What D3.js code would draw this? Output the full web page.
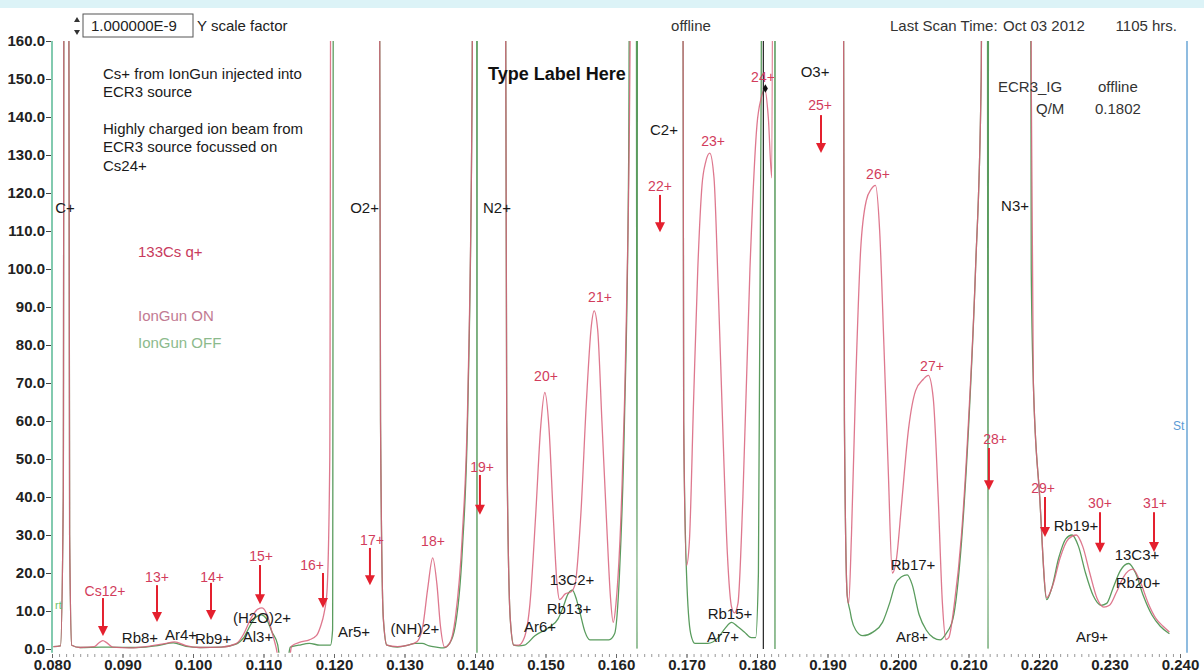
<!DOCTYPE html>
<html>
<head>
<meta charset="utf-8">
<script src="https://cdn.jsdelivr.net/npm/d3@7"></script>
<style>
  body { margin: 0; background: #fff; }
  svg text { font-family: Arial, "Liberation Sans", sans-serif; }
</style>
</head>
<body>
<script>
// charge-state scan, Q/M on x, beam current (x 1e-9) on y
const onQ = [0.0802,0.0812,0.0816,0.0818,0.0822,0.0825,0.0828,0.0840,0.0860,0.0866,0.0872,0.0878,0.0886,0.0910,0.0940,0.0960,0.0974,0.0990,0.1010,0.1040,0.1062,0.1072,0.1082,0.1092,0.1098,0.1105,0.1112,0.1118,0.1122,0.1136,0.1140,0.1152,0.1165,0.1175,0.1181,0.1186,0.1190,0.1194,0.1197,0.1262,0.1266,0.1270,0.1275,0.1290,0.1305,0.1318,0.1326,0.1333,0.1340,0.1346,0.1351,0.1357,0.1364,0.1372,0.1382,0.1390,0.1396,0.1399,0.1440,0.1445,0.1450,0.1455,0.1462,0.1470,0.1478,0.1486,0.1493,0.1499,0.1505,0.1511,0.1516,0.1520,0.1528,0.1536,0.1542,0.1550,0.1558,0.1565,0.1569,0.1574,0.1580,0.1587,0.1592,0.1596,0.1600,0.1608,0.1615,0.1620,0.1623,0.1693,0.1696,0.1700,0.1704,0.1710,0.1716,0.1722,0.1727,0.1733,0.1739,0.1745,0.1752,0.1758,0.1764,0.1768,0.1773,0.1780,0.1790,0.1800,0.1806,0.1811,0.1816,0.1821,0.1825,0.1920,0.1924,0.1928,0.1930,0.1934,0.1940,0.1947,0.1955,0.1962,0.1968,0.1974,0.1980,0.1986,0.1992,0.1998,0.2005,0.2015,0.2025,0.2036,0.2043,0.2050,0.2057,0.2063,0.2068,0.2072,0.2080,0.2090,0.2100,0.2110,0.2118,0.2122,0.2186,0.2189,0.2192,0.2201,0.2211,0.2220,0.2230,0.2242,0.2253,0.2262,0.2272,0.2282,0.2292,0.2300,0.2310,0.2320,0.2333,0.2343,0.2355,0.2366,0.2376,0.2385]
const onVal = [0.6,0.8,40,400,400,30,1,0.4,0.6,1.5,2.2,1.6,0.5,0.3,0.8,1.4,1.9,0.9,0.4,0.5,1.5,4,8,10.5,10.8,9,4.5,0.3,-3,-3,0.8,1.8,2.4,3.5,6,9.5,15,50,400,400,60,8,1,0.6,1,2,6,16,24,17,6,0.5,1.5,8,30,68,150,400,400,60,8,1,1,3,12,35,58,67.5,58,35,18,13,14.5,15,17,35,65,85,89,84,60,32,14,7,12,40,90,160,400,400,60,22,28,65,100,122,128,130.5,124,95,55,25,11,9.5,12,40,100,138,145,147.5,140,124,400,400,60,14,12,30,70,105,118,121,122,110,80,48,20,24,38,58,68,71,72,66,40,12,2.5,3,12,30,60,100,150,400,400,150,70,40,13.5,17,24,29,30,27,20,13.5,11,11.5,15,19,21,18,12,8,6,4.5]

const offQ = [0.0802,0.0812,0.0816,0.0818,0.0822,0.0825,0.0828,0.0840,0.0870,0.0880,0.0920,0.0950,0.0972,0.0990,0.1010,0.1040,0.1060,0.1072,0.1082,0.1090,0.1097,0.1104,0.1112,0.1120,0.1124,0.1134,0.1138,0.1150,0.1165,0.1180,0.1195,0.1198,0.1200,0.1262,0.1266,0.1270,0.1275,0.1290,0.1305,0.1315,0.1325,0.1335,0.1345,0.1355,0.1364,0.1372,0.1382,0.1390,0.1396,0.1399,0.1402,0.14028,0.14036,0.1440,0.1445,0.1450,0.1455,0.1462,0.1470,0.1485,0.1506,0.1518,0.1525,0.1532,0.1538,0.1544,0.1549,0.1556,0.1563,0.1590,0.1598,0.1605,0.1612,0.1618,0.1622,0.1628,0.16298,0.1631,0.1693,0.1696,0.1700,0.1706,0.1712,0.1730,0.1745,0.1755,0.1764,0.1772,0.1782,0.1792,0.1798,0.1802,0.1806,0.1808,0.1825,0.18255,0.1826,0.1920,0.1924,0.1928,0.1932,0.1934,0.1940,0.1950,0.1965,0.1978,0.1988,0.1996,0.2005,0.2013,0.2020,0.2030,0.2040,0.2050,0.2060,0.2068,0.2078,0.2090,0.2100,0.2110,0.2118,0.2122,0.2126,0.21277,0.2129,0.2186,0.2189,0.2192,0.2201,0.2211,0.2218,0.2228,0.2238,0.2247,0.2256,0.2266,0.2277,0.2288,0.2296,0.2305,0.2315,0.2327,0.2337,0.2348,0.2360,0.2372,0.2385]
const offVal = [0.6,0.8,40,400,400,30,1,0.4,0.5,0.5,0.4,0.9,1.6,0.7,0.4,0.5,1.2,3,6.5,8.5,9,8,4.5,1.2,-3,-3,0.5,1,1.5,1,1,5,400,400,60,8,1,0.5,1,1.5,1.5,0.8,0.5,0.3,1.5,6,26,65,150,400,400,-2,400,400,60,8,1,0.8,1,3.5,5.8,8,11,14.5,15.5,13,9.5,4.5,2.4,2.4,4,20,60,130,400,400,0,400,400,60,20,4,1.5,1.5,3,5.5,7,6,4.5,3,3,20,150,400,400,0,400,400,60,14,10,8,5,3.5,4.5,7,12,17,19,19.5,17,9,5,3,2.4,4,8,28,58,100,150,400,400,0,400,400,100,70,40,13,16,24,29,30,27,20,14,11.5,12,16,20.5,22.5,20,14,9,6,4]

// black labels: ion species
const speciesNames = ['C+','O2+','N2+','C2+','O3+','N3+','Rb8+','Ar4+','Rb9+','(H2O)2+','Al3+','Ar5+','(NH)2+','Ar6+','Rb13+','13C2+','Rb15+','Ar7+','Rb17+','Ar8+','Rb19+','13C3+','Rb20+','Ar9+']
const speciesQ = [0.08184,0.12434,0.14312,0.16681,0.18823,0.2166,0.09248,0.0983,0.10284,0.10979,0.10922,0.12284,0.13149,0.14922,0.15333,0.15376,0.17617,0.17518,0.20213,0.20199,0.22525,0.2339,0.23404,0.22752]
const speciesV = [116.1,116.1,116.1,136.6,151.8,116.6,2.9,3.7,2.6,8.2,3.2,4.5,5.3,5.8,10.5,18.2,9.2,3.2,22.1,3.2,32.4,24.7,17.4,3.2]

// red labels: 133Cs charge states
const chargeNames = ['Cs12+','13+','14+','15+','16+','17+','18+','19+','20+','21+','22+','23+','24+','25+','26+','27+','28+','29+','30+','31+']
const chargeQ = [0.08752,0.09489,0.1027,0.10965,0.11688,0.12539,0.13404,0.141,0.15007,0.15773,0.16624,0.17376,0.18085,0.18894,0.19716,0.20482,0.21376,0.22057,0.22865,0.23645]
const chargeV = [15.3,18.9,18.9,24.5,22.1,28.7,28.4,47.9,71.8,92.6,121.8,133.7,150.5,143.2,125,74.5,55.3,42.4,38.4,38.4]

// arrows: expected position of each Cs charge state
const arrowQ = [0.08723,0.09489,0.10255,0.1095,0.11844,0.1251,0.1407,0.16624,0.18908,0.2129,0.22085,0.22865,0.23631]
const arrowTop = [13.4,16.8,17.4,22.1,20,26.6,45.8,119.5,140.5,52.9,40,36,36]
const arrowTip = [3.4,7.1,7.6,11.8,10.8,16.8,35.3,109.7,130.5,41.8,29.5,25.3,25.5]

const yTicks = d3.range(0, 161, 10)
const xMajor = d3.range(0, 17).map(i => 0.08 + i * 0.01)
const xMinor = d3.range(0, 161).map(i => 0.08 + i * 0.001)

const cursorQ = 0.1809
const cursorV = 147.5

const width = 1204, height = 672

const svg = d3.select('body').append('svg')
    .attr('width', width)
    .attr('height', height)

svg.append('rect').attr('width', width).attr('height', height).attr('fill', '#fff')
svg.append('rect').attr('width', width).attr('height', 8).attr('fill', '#dcf3f7')

const x = d3.scaleLinear().domain([0.08, 0.24]).range([52, 1180])
const y = d3.scaleLinear().domain([0, 160]).range([649, 41])

svg.append('defs').append('clipPath').attr('id', 'plot')
    .append('rect')
    .attr('x', x(0.08)).attr('y', y(160))
    .attr('width', 1187 - x(0.08)).attr('height', y(-1) - y(160))

// header
svg.append('path').attr('d', 'M74,22 l3,-5 l3,5 z M74,30 l3,5 l3,-5 z').attr('fill', '#333')
svg.append('rect').attr('x', 83).attr('y', 14).attr('width', 110).attr('height', 23)
    .attr('fill', '#fff').attr('stroke', '#555').attr('stroke-width', 1)
svg.append('text').attr('x', 91).attr('y', 31).text('1.000000E-9')
    .style('font-size', '15px').attr('fill', '#222')
svg.append('text').attr('x', 197).attr('y', 31).text('Y scale factor')
    .style('font-size', '15px').attr('fill', '#222')
svg.append('text').attr('x', 691).attr('y', 31).attr('text-anchor', 'middle').text('offline')
    .style('font-size', '15px').attr('fill', '#333')
svg.append('text').attr('x', 890).attr('y', 31).text('Last Scan Time:')
    .style('font-size', '15px').attr('fill', '#333')
svg.append('text').attr('x', 1003).attr('y', 31).text('Oct 03 2012')
    .style('font-size', '15px').attr('fill', '#333')
svg.append('text').attr('x', 1177).attr('y', 31).attr('text-anchor', 'end').text('1105 hrs.')
    .style('font-size', '15px').attr('fill', '#333')

// y axis
const yAxis = svg.append('g')
    .attr('transform', 'translate(51,0)')
    .call(d3.axisLeft(y).tickValues(yTicks).tickFormat(d3.format('.1f')).tickSize(5).tickPadding(1))
yAxis.select('.domain').remove()
yAxis.selectAll('text').style('font-size', '15px').style('font-weight', 'bold').attr('fill', '#222')
yAxis.selectAll('line').attr('stroke', '#444')

svg.append('line')
    .attr('x1', x(0.08)).attr('x2', x(0.08))
    .attr('y1', y(160)).attr('y2', y(-1))
    .attr('stroke', '#58b894').attr('stroke-width', 1.5)
svg.append('line')
    .attr('x1', 1187).attr('x2', 1187)
    .attr('y1', y(160)).attr('y2', y(-1))
    .attr('stroke', '#6aa6d6').attr('stroke-width', 1.5)

// x axis: dotted minor ticks + labelled majors
const xMinorAxis = svg.append('g')
    .attr('transform', 'translate(0,654)')
    .call(d3.axisBottom(x).tickValues(xMinor).tickFormat('').tickSize(3))
xMinorAxis.select('.domain').remove()
xMinorAxis.selectAll('line').attr('stroke', '#999')

const xAxis = svg.append('g')
    .attr('transform', 'translate(0,654)')
    .call(d3.axisBottom(x).tickValues(xMajor).tickFormat(d3.format('.3f')).tickSize(4).tickPadding(1))
xAxis.select('.domain').remove()
xAxis.selectAll('line').attr('stroke', '#666')
xAxis.selectAll('text').style('font-size', '15px').style('font-weight', 'bold').attr('fill', '#222')

// traces
const line = d3.line()
    .x(d => x(d[0]))
    .y(d => y(d[1]))
    .curve(d3.curveMonotoneX)

const plot = svg.append('g').attr('clip-path', 'url(#plot)')

plot.append('path')
    .datum(offQ.map((q, i) => [q, offVal[i]]))
    .attr('d', line)
    .attr('fill', 'none')
    .attr('stroke', '#5a9c5e')
    .attr('stroke-width', 1.3)

plot.append('path')
    .datum(onQ.map((q, i) => [q, onVal[i]]))
    .attr('d', line)
    .attr('fill', 'none')
    .attr('stroke', '#d8607a')
    .attr('stroke-width', 1.3)
    .attr('opacity', 0.85)

// cursor
plot.append('line')
    .attr('x1', x(cursorQ)).attr('x2', x(cursorQ))
    .attr('y1', y(160)).attr('y2', y(0))
    .attr('stroke', '#222').attr('stroke-width', 1.2)
svg.append('path')
    .attr('transform', `translate(${x(cursorQ) + 2},${y(cursorV)})`)
    .attr('d', d3.symbol(d3.symbolDiamond, 22))
    .attr('fill', '#111')

// arrows
const arrows = svg.append('g')
arrowQ.forEach((q, i) => {
    const ax = x(q), top = y(arrowTop[i]), tip = y(arrowTip[i])
    arrows.append('line')
        .attr('x1', ax).attr('x2', ax)
        .attr('y1', top).attr('y2', tip - 8)
        .attr('stroke', '#e4202e').attr('stroke-width', 2)
    arrows.append('path')
        .attr('d', `M${ax - 5},${tip - 10} L${ax + 5},${tip - 10} L${ax},${tip} Z`)
        .attr('fill', '#e4202e')
})

// labels
svg.append('g').selectAll('text')
    .data(speciesNames)
    .enter()
    .append('text')
    .attr('x', (d, i) => x(speciesQ[i]))
    .attr('y', (d, i) => y(speciesV[i]))
    .attr('dy', '0.35em')
    .attr('text-anchor', 'middle')
    .style('font-size', '15px')
    .attr('fill', '#1a1a1a')
    .text(d => d)

svg.append('g').selectAll('text')
    .data(chargeNames)
    .enter()
    .append('text')
    .attr('x', (d, i) => x(chargeQ[i]))
    .attr('y', (d, i) => y(chargeV[i]))
    .attr('dy', '0.35em')
    .attr('text-anchor', 'middle')
    .style('font-size', '14px')
    .attr('fill', '#d23c5c')
    .text(d => d)

// notes
const notes = [
    ['Cs+ from IonGun injected into', 103, 79],
    ['ECR3 source', 103, 97],
    ['Highly charged ion beam from', 103, 134],
    ['ECR3 source focussed on', 103, 152],
    ['Cs24+', 103, 171]
]
notes.forEach(n => {
    svg.append('text').attr('x', n[1]).attr('y', n[2]).text(n[0])
        .style('font-size', '15px').attr('fill', '#1a1a1a')
})

svg.append('text').attr('x', 138).attr('y', 257).text('133Cs q+')
    .style('font-size', '15px').attr('fill', '#c83a5c')
svg.append('text').attr('x', 138).attr('y', 321).text('IonGun ON')
    .style('font-size', '15px').attr('fill', '#c27a92')
svg.append('text').attr('x', 138).attr('y', 348).text('IonGun OFF')
    .style('font-size', '15px').attr('fill', '#8cba8c')

svg.append('text').attr('x', 488).attr('y', 80).text('Type Label Here')
    .style('font-size', '18px').style('font-weight', 'bold').attr('fill', '#111')

svg.append('text').attr('x', 998).attr('y', 92).text('ECR3_IG')
    .style('font-size', '15px').attr('fill', '#333')
svg.append('text').attr('x', 1098).attr('y', 92).text('offline')
    .style('font-size', '15px').attr('fill', '#333')
svg.append('text').attr('x', 1036).attr('y', 114).text('Q/M')
    .style('font-size', '15px').attr('fill', '#333')
svg.append('text').attr('x', 1095).attr('y', 114).text('0.1802')
    .style('font-size', '15px').attr('fill', '#333')

svg.append('text').attr('x', 1173).attr('y', 430).text('St')
    .style('font-size', '12px').attr('fill', '#5b9bd5')
svg.append('text').attr('x', 55).attr('y', 609).text('rt')
    .style('font-size', '11px').attr('fill', '#6cc46c')
</script>
</body>
</html>
